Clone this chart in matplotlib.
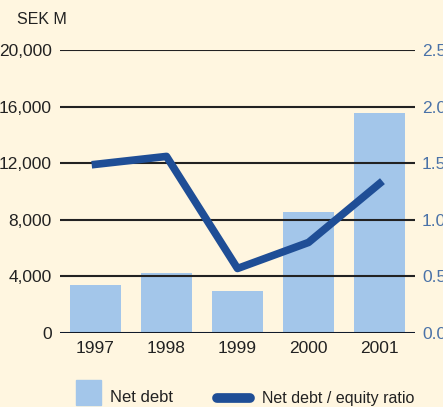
import matplotlib.pyplot as plt
from matplotlib.lines import Line2D
from matplotlib.patches import Rectangle
import numpy as np

years = ['1997', '1998', '1999', '2000', '2001']
net_debt = [3400, 4250, 3000, 8550, 15550]
ratio = [1.49, 1.56, 0.57, 0.80, 1.32]

left_ticks = [0, 4000, 8000, 12000, 16000, 20000]
right_ticks = [0.0, 0.5, 1.0, 1.5, 2.0, 2.5]

bg = '#FFF6E0'
bar_col = '#A3C6EA'
line_col = '#1F4E96'
right_col = '#4A72A8'
fonts = ['Liberation Sans Narrow', 'Liberation Sans', 'DejaVu Sans']
plt.rcParams['font.family'] = fonts

fig = plt.figure(figsize=(4.43, 4.07), dpi=100, facecolor=bg)
ax = fig.add_axes([0.1354, 0.1818, 0.8014, 0.6953])
ax.set_facecolor(bg)

x = np.arange(len(years))
ax.bar(x, net_debt, width=0.73, color=bar_col, zorder=1)
for t in left_ticks:
    lw = 2.2 if t == 0 else 1.5
    ax.axhline(t, color='#222222' if t else '#111a2a', lw=lw, zorder=2)

ax.set_xlim(-0.5, 4.5)
ax.set_ylim(0, 20000)
ax.set_yticks(left_ticks)
ax.set_yticklabels([f'{t:,}' for t in left_ticks], fontsize=12.5, color='#222222')
ax.set_xticks(x)
ax.set_xticklabels(years, fontsize=12.5, color='#222222')
ax.tick_params(length=0, pad=6)
ax.tick_params(axis='y', pad=6)
for s in ax.spines.values():
    s.set_visible(False)

ax2 = ax.twinx()
ax2.plot(x, ratio, color=line_col, lw=5.5, zorder=3)
ax2.set_ylim(0, 2.5)
ax2.set_yticks(right_ticks)
ax2.set_yticklabels([f'{t:.1f}' for t in right_ticks], fontsize=12.5, color=right_col)
ax2.tick_params(length=0, pad=5)
for s in ax2.spines.values():
    s.set_visible(False)

fig.text(17 / 443, 1 - 20 / 407, 'SEK M', fontsize=11.5, va='center', ha='left', color='#222222')

# legend
fig.patches.append(Rectangle((76 / 443, 1 - 405 / 407), 25 / 443, 25 / 407,
                             transform=fig.transFigure, color=bar_col))
fig.text(110 / 443, 1 - 398 / 407, 'Net debt', fontsize=12, va='center', color='#222222')
fig.lines.append(Line2D([217 / 443, 250 / 443], [1 - 398 / 407] * 2, transform=fig.transFigure,
                        color=line_col, lw=7, solid_capstyle='round'))
fig.text(262 / 443, 1 - 398 / 407, 'Net debt / equity ratio', fontsize=11.5, va='center', color='#222222')

fig.savefig('out.png', dpi=100, facecolor=bg)
